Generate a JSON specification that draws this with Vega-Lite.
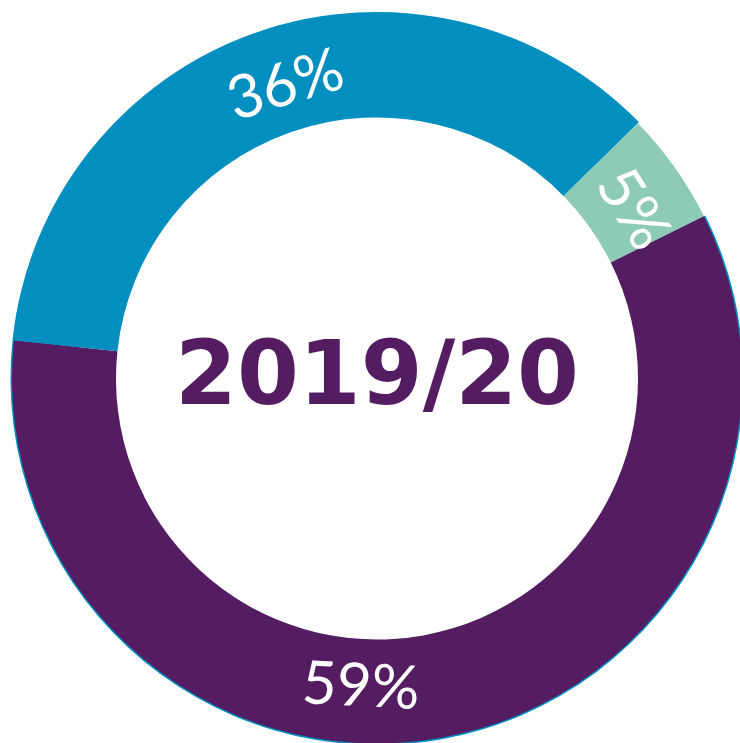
{
  "$schema": "https://vega.github.io/schema/vega-lite/v6.json",
  "width": 740,
  "height": 743,
  "autosize": {"type": "fit", "contains": "padding"},
  "padding": {"left": 14, "top": 14, "right": 0, "bottom": 0},
  "background": "white",
  "config": {"view": {"stroke": null}},
  "layer": [
    {
      "data": {"values": [
        {"segment": "Mint", "pct": 5, "label": "5%", "rank": 1},
        {"segment": "Purple", "pct": 59, "label": "59%", "rank": 2},
        {"segment": "Blue", "pct": 36, "label": "36%", "rank": 3}
      ]},
      "layer": [
        {
          "mark": {"type": "arc", "radius": 366.5, "radius2": 300, "color": "#028fc0"},
          "encoding": {
            "theta": {"field": "pct", "type": "quantitative", "stack": true, "scale": {"range": [0.796, 7.079]}},
            "order": {"field": "rank", "type": "quantitative"},
            "opacity": {"condition": {"test": "datum.segment === 'Mint'", "value": 0}, "value": 1}
          }
        },
        {
          "mark": {"type": "arc", "radius": 365, "radius2": 261},
          "encoding": {
            "theta": {"field": "pct", "type": "quantitative", "stack": true, "scale": {"range": [0.796, 7.079]}},
            "order": {"field": "rank", "type": "quantitative"},
            "color": {"field": "segment", "type": "nominal", "scale": {"domain": ["Mint", "Purple", "Blue"], "range": ["#8ecbb6", "#541d62", "#028fc0"]}, "legend": null}
          }
        },
        {
          "mark": {"type": "text", "radius": 306, "font": "Lato", "fontWeight": 400, "fontSize": 60, "color": "white", "align": "center", "baseline": "middle", "dx": 10},
          "encoding": {
            "theta": {"field": "pct", "type": "quantitative", "stack": true, "scale": {"range": [0.796, 7.079]}},
            "order": {"field": "rank", "type": "quantitative"},
            "text": {"field": "label"},
            "opacity": {"condition": {"test": "datum.segment === 'Purple'", "value": 0}, "value": 1},
            "angle": {"field": "segment", "type": "nominal", "scale": {"type": "ordinal", "domain": ["Mint", "Purple", "Blue"], "range": [58, 3, -17]}, "legend": null}
          }
        }
      ]
    },
    {
      "data": {"values": [{"segment": "Purple", "label": "59%"}]},
      "mark": {"type": "text", "font": "Lato", "fontWeight": 400, "fontSize": 60, "color": "white", "align": "center", "baseline": "middle", "angle": 3, "dx": 0, "dy": 310},
      "encoding": {"text": {"field": "label"}}
    },
    {
      "data": {"values": [{"title": "2019/20"}]},
      "mark": {"type": "text", "font": "DejaVu Sans", "fontWeight": "bold", "fontSize": 89, "color": "#541d62", "align": "center", "baseline": "middle", "dy": -2},
      "encoding": {"text": {"field": "title"}}
    }
  ]
}
